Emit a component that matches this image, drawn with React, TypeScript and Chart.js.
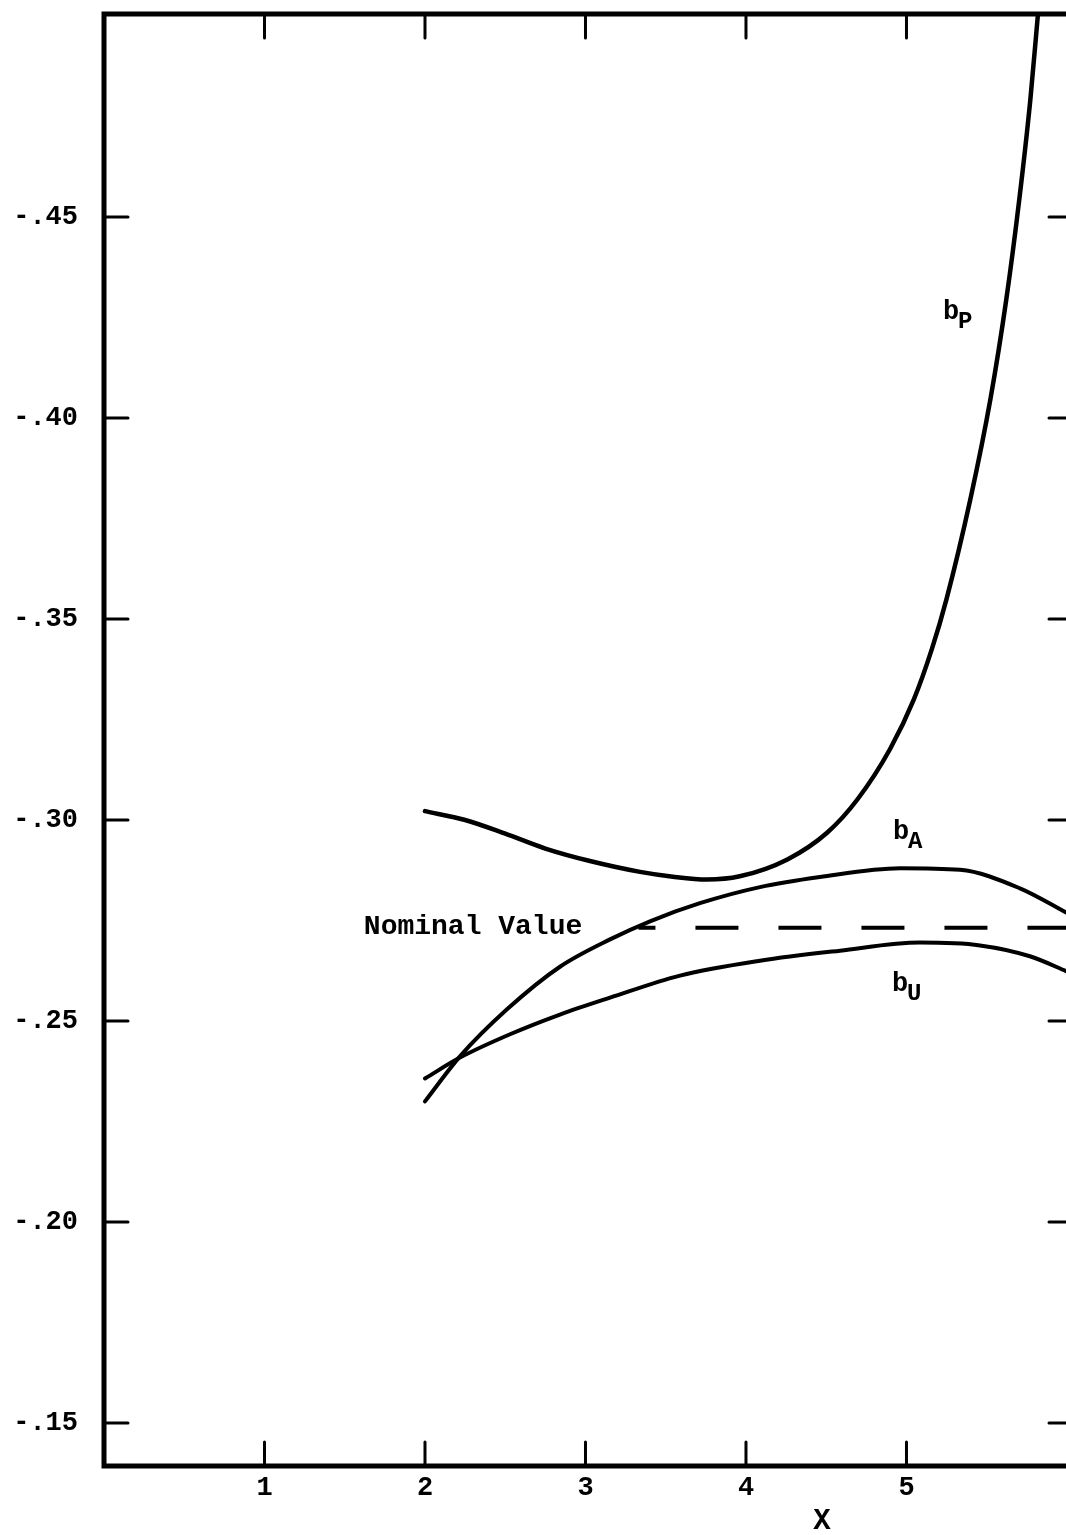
import React, { useEffect, useRef } from "react";
import { Chart, registerables } from "chart.js";

Chart.register(...registerables);

// ---------- data ----------
const X_TICKS = [1, 2, 3, 4, 5];
const Y_TICKS = [0.15, 0.2, 0.25, 0.3, 0.35, 0.4, 0.45];
const Y_TICK_LABELS = ["-.15", "-.20", "-.25", "-.30", "-.35", "-.40", "-.45"];

const BP_X = [2.0, 2.25, 2.5, 2.75, 3.028, 3.34, 3.545, 3.757, 3.961, 4.258, 4.507, 4.694, 4.897, 5.046, 5.158, 5.249, 5.398, 5.523, 5.622, 5.703, 5.772, 5.819];
const BP_Y = [0.3022, 0.3, 0.2966, 0.2929, 0.2898, 0.2871, 0.2859, 0.2852, 0.286, 0.2902, 0.2969, 0.3051, 0.3176, 0.33, 0.3425, 0.3549, 0.3798, 0.4047, 0.4295, 0.4544, 0.4793, 0.5004];

const BA_X = [2.0, 2.218, 2.511, 2.841, 3.153, 3.402, 3.713, 4.087, 4.461, 4.96, 5.333, 5.707, 5.994, 6.05];
const BA_Y = [0.23, 0.2412, 0.2529, 0.2635, 0.2703, 0.2748, 0.2793, 0.2833, 0.2858, 0.288, 0.2876, 0.283, 0.277, 0.2758];

const BU_X = [2.0, 2.218, 2.53, 2.841, 3.153, 3.589, 4.087, 4.586, 5.084, 5.458, 5.769, 5.994, 6.05];
const BU_Y = [0.2357, 0.2409, 0.2467, 0.2516, 0.2558, 0.2613, 0.265, 0.2675, 0.2695, 0.2688, 0.2661, 0.2624, 0.2614];

const NOMINAL_X = [3.33, 6.05];
const NOMINAL_VALUE = 0.2732;

const X_MIN = 0;
const X_MAX = 6.05;
const Y_MIN = 0.1393;
const Y_MAX = 0.5005;

// annotation anchors (data units)
const NOMINAL_LABEL = { text: "Nominal Value", x: 2.98, y: 0.2734 };
const CURVE_LABELS = [
  { main: "b", sub: "P", x: 5.227, y: 0.4246 },
  { main: "b", sub: "A", x: 4.916, y: 0.2952 },
  { main: "b", sub: "U", x: 4.91, y: 0.2574 },
];
const X_TITLE = { text: "X", x: 4.474 };

const FONT = '"Liberation Mono", "DejaVu Sans Mono", monospace';
const INK = "#000";

const pts = (xs: number[], ys: number[]) => xs.map((x, i) => ({ x, y: ys[i] }));

const framePlugin = {
  id: "frame",
  afterDatasetsDraw(chart: any) {
    const { ctx, chartArea } = chart;
    const xs = chart.scales.x;
    const ys = chart.scales.y;
    const { left, right, top, bottom } = chartArea;
    ctx.save();
    ctx.strokeStyle = INK;
    ctx.lineCap = "round";
    // frame
    ctx.lineWidth = 5;
    ctx.strokeRect(left, top, right - left, bottom - top);
    // inner ticks
    ctx.lineWidth = 3;
    X_TICKS.forEach((v) => {
      const px = xs.getPixelForValue(v);
      ctx.beginPath();
      ctx.moveTo(px, bottom);
      ctx.lineTo(px, bottom - 24);
      ctx.moveTo(px, top);
      ctx.lineTo(px, top + 24);
      ctx.stroke();
    });
    Y_TICKS.forEach((v) => {
      const py = ys.getPixelForValue(v);
      ctx.beginPath();
      ctx.moveTo(left, py);
      ctx.lineTo(left + 24, py);
      ctx.moveTo(right, py);
      ctx.lineTo(right - 26, py);
      ctx.stroke();
    });
    // texts
    ctx.fillStyle = INK;
    ctx.font = `bold 28px ${FONT}`;
    ctx.textAlign = "right";
    ctx.textBaseline = "middle";
    ctx.fillText(NOMINAL_LABEL.text, xs.getPixelForValue(NOMINAL_LABEL.x), ys.getPixelForValue(NOMINAL_LABEL.y));

    ctx.textAlign = "left";
    ctx.textBaseline = "alphabetic";
    CURVE_LABELS.forEach((l) => {
      const px = xs.getPixelForValue(l.x);
      const py = ys.getPixelForValue(l.y);
      ctx.font = `bold 27px ${FONT}`;
      ctx.fillText(l.main, px, py);
      ctx.font = `bold 24px ${FONT}`;
      ctx.fillText(l.sub, px + 15, py + 9);
    });

    ctx.font = `bold 29px ${FONT}`;
    ctx.textAlign = "center";
    ctx.textBaseline = "middle";
    ctx.fillText(X_TITLE.text, xs.getPixelForValue(X_TITLE.x), bottom + 56);
    ctx.restore();
  },
};

const lineDs = (label: string, data: any[], extra: any = {}) => ({
  label,
  data,
  borderColor: INK,
  borderWidth: 4,
  pointRadius: 0,
  fill: false,
  cubicInterpolationMode: "monotone",
  borderCapStyle: "round",
  borderJoinStyle: "round",
  ...extra,
});

export default function App() {
  const ref = useRef<HTMLCanvasElement | null>(null);

  useEffect(() => {
    document.body.style.margin = "0";
    const canvas = ref.current;
    if (!canvas) return;
    const chart = new Chart(canvas, {
      type: "line",
      data: {
        datasets: [
          lineDs("bP", pts(BP_X, BP_Y), { borderWidth: 4.5 }),
          lineDs("bA", pts(BA_X, BA_Y)),
          lineDs("bU", pts(BU_X, BU_Y)),
          lineDs("Nominal Value", NOMINAL_X.map((x) => ({ x, y: NOMINAL_VALUE })), {
            borderDash: [43, 40],
            borderDashOffset: 26,
            borderCapStyle: "butt",
            cubicInterpolationMode: "default",
            tension: 0,
          }),
        ],
      },
      options: {
        animation: false,
        responsive: false,
        maintainAspectRatio: false,
        layout: { padding: { left: 0, right: 5, top: 14, bottom: 0 } },
        plugins: { legend: { display: false }, tooltip: { enabled: false }, title: { display: false } },
        scales: {
          x: {
            type: "linear",
            min: X_MIN,
            max: X_MAX,
            border: { display: false },
            grid: { display: false, drawTicks: false },
            afterBuildTicks: (s: any) => {
              s.ticks = X_TICKS.map((v) => ({ value: v }));
            },
            afterFit: (s: any) => {
              s.height = 69;
              s.paddingLeft = 0;
              s.paddingRight = 0;
              s.paddingTop = 0;
              s.paddingBottom = 0;
            },
            ticks: {
              color: INK,
              padding: 6,
              maxRotation: 0,
              autoSkip: false,
              font: { family: FONT, size: 27, weight: "bold" },
              callback: (v: any) => String(v),
            },
          },
          y: {
            type: "linear",
            min: Y_MIN,
            max: Y_MAX,
            border: { display: false },
            grid: { display: false, drawTicks: false },
            afterBuildTicks: (s: any) => {
              s.ticks = Y_TICKS.map((v) => ({ value: v }));
            },
            afterFit: (s: any) => {
              s.width = 104;
              s.paddingLeft = 0;
              s.paddingRight = 0;
              s.paddingTop = 0;
              s.paddingBottom = 0;
            },
            ticks: {
              color: INK,
              padding: 26,
              autoSkip: false,
              font: { family: FONT, size: 27, weight: "bold" },
              callback: (_v: any, i: number) => Y_TICK_LABELS[i],
            },
          },
        },
      },
      plugins: [framePlugin],
    } as any);
    return () => chart.destroy();
  }, []);

  return (
    <div style={{ width: 1066, height: 1535, overflow: "hidden", position: "relative", background: "#fff" }}>
      <canvas ref={ref} width={1080} height={1535} style={{ display: "block", width: 1080, height: 1535 }} />
    </div>
  );
}
